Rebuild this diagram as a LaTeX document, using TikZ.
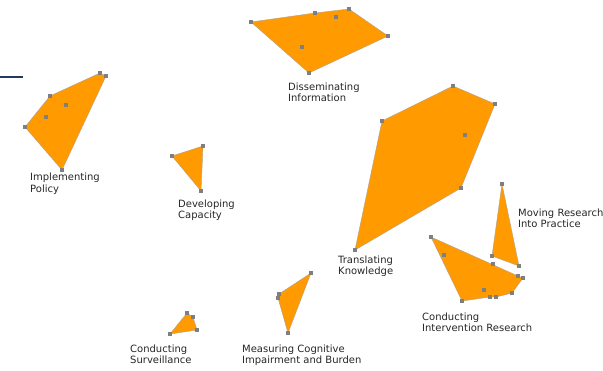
\documentclass[tikz,border=0pt]{standalone}
\usepackage{fontspec}
\setmainfont{DejaVu Sans}
\definecolor{hullfill}{HTML}{FF9A00}
\definecolor{hulledge}{HTML}{B0A090}
\definecolor{ptgray}{HTML}{7F7F7F}
\definecolor{navy}{HTML}{1F3A60}
\definecolor{txt}{HTML}{262626}
\begin{document}
\begin{tikzpicture}[x=1pt,y=-1pt,
  hull/.style={fill=hullfill,draw=hulledge,line width=0.4pt,line join=round},
  pt/.style={fill=ptgray,draw=none},
  lbl/.style={anchor=base west,inner sep=0pt,align=left,text=txt,
    font=\fontsize{10}{11.7}\selectfont}]
\useasboundingbox (0,0) rectangle (603,370);
\newcommand{\pts}[1]{\foreach \p in {#1}{\fill[pt] (\p) ++(-1.6,-1.6) rectangle ++(3.2,3.2);}}
% navy line
\coordinate (n1) at (0,77); \coordinate (n2) at (23,77);
\draw[navy,line width=1.8pt] (n1) -- (n2);
% Implementing Policy
\draw[hull] (100,73) -- (106,76) -- (62,170) -- (25,127) -- (50,96) -- cycle;
\pts{{100,73},{106,76},{50,96},{66,105},{46,117},{25,127},{62,170}}
\node[lbl] (ip) at (30,192.5) {Implementing\\Policy};
% Disseminating Information
\draw[hull] (251,22) -- (315,13) -- (349,9) -- (388,36) -- (309,73) -- cycle;
\pts{{251,22},{315,13},{349,9},{336,17},{388,36},{309,73},{302,47}}
\node[lbl] (di) at (288,101.7) {Disseminating\\Information};
% Developing Capacity
\draw[hull] (172,156) -- (203,146) -- (201,191) -- cycle;
\pts{{172,156},{203,146},{201,191}}
\node[lbl] (dc) at (178,218.7) {Developing\\Capacity};
% Translating Knowledge
\draw[hull] (453,86) -- (495,104) -- (461,188) -- (355,250) -- (382,121) -- cycle;
\pts{{453,86},{495,104},{465,135},{461,188},{355,250},{382,121}}
\node[lbl] (tk) at (338,274.7) {Translating\\Knowledge};
% Moving Research Into Practice
\draw[hull] (502,184) -- (519,266) -- (492,256) -- cycle;
\pts{{502,184},{519,266},{492,256}}
\node[lbl] (mr) at (518,227.7) {Moving Research\\Into Practice};
% Conducting Intervention Research
\draw[hull] (431,237) -- (518,276) -- (523,278) -- (512,293) -- (496,297) -- (490,297) -- (462,301) -- cycle;
\pts{{431,237},{444,255},{493,264},{518,276},{523,278},{512,293},{496,297},{490,297},{484,290},{462,301}}
\node[lbl] (ci) at (422,331.7) {Conducting\\Intervention Research};
% Conducting Surveillance
\draw[hull] (187,313) -- (193,317) -- (197,330) -- (170,334) -- cycle;
\pts{{187,313},{193,317},{197,330},{170,334}}
\node[lbl] (cs) at (130,363.7) {Conducting\\Surveillance};
% Measuring Cognitive Impairment and Burden
\draw[hull] (311,273) -- (288,333) -- (278,298) -- (279,294) -- cycle;
\pts{{311,273},{279,294},{278,298},{288,333}}
\node[lbl] (mc) at (242,363.7) {Measuring Cognitive\\Impairment and Burden};
\end{tikzpicture}
\end{document}
